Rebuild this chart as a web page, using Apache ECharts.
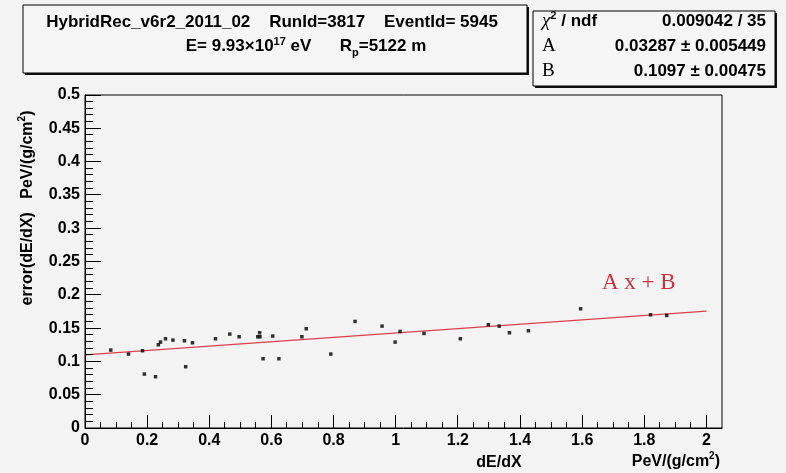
<!DOCTYPE html>
<html>
<head>
<meta charset="utf-8">
<script src="https://cdn.jsdelivr.net/npm/echarts@6/dist/echarts.min.js"></script>
<style>
  html, body { margin: 0; padding: 0; background: #f3f3f3; }
  #chart { width: 786px; height: 473px; }
</style>
</head>
<body>
<div id="chart"></div>
<script>
// dE/dX (PeV/(g/cm2)) and its error for each profile point
const xVals = [0.083, 0.140, 0.185, 0.191, 0.227, 0.236, 0.243, 0.259, 0.283, 0.320,
               0.324, 0.346, 0.420, 0.466, 0.496, 0.556, 0.562, 0.563, 0.573, 0.604,
               0.624, 0.698, 0.712, 0.791, 0.869, 0.956, 0.998, 1.014, 1.091, 1.208,
               1.298, 1.333, 1.366, 1.427, 1.595, 1.820, 1.872];
const yVals = [0.117, 0.111, 0.116, 0.081, 0.077, 0.125, 0.129, 0.134, 0.132, 0.131,
               0.092, 0.128, 0.134, 0.141, 0.137, 0.137, 0.143, 0.137, 0.104, 0.138,
               0.104, 0.137, 0.149, 0.111, 0.160, 0.153, 0.129, 0.145, 0.142, 0.134,
               0.155, 0.153, 0.143, 0.146, 0.179, 0.170, 0.169];

// linear fit parameters  y = A x + B
const fitA = 0.03287;
const fitB = 0.1097;
const fitRange = [0, 2];

// tick labels
const xTickLabels = ['0', '0.2', '0.4', '0.6', '0.8', '1', '1.2', '1.4', '1.6', '1.8', '2'];
const yTickLabels = ['0', '0.05', '0.1', '0.15', '0.2', '0.25', '0.3', '0.35', '0.4', '0.45', '0.5'];

const points = xVals.map((x, i) => [x, yVals[i]]);
const fitLine = fitRange.map(x => [x, fitA * x + fitB]);

const FONT = 'Liberation Sans, Arial, sans-serif';
const SERIF = 'Liberation Serif, Times New Roman, serif';

// ROOT-style inner tick marks, one entry per tick value
const X_MAJOR = 0.2, X_MINOR = 0.05, Y_MAJOR = 0.05, Y_MINOR = 0.01;
function tickValues(lastLabel, minor) {
  const out = [];
  const n = Math.round(parseFloat(lastLabel) / minor);
  for (let i = 0; i <= n; i++) out.push(+(i * minor).toFixed(4));
  return out;
}
function isMultiple(v, step) {
  return Math.abs(v / step - Math.round(v / step)) < 1e-6;
}
const xTickVals = tickValues(xTickLabels[xTickLabels.length - 1], X_MINOR);
const yTickVals = tickValues(yTickLabels[yTickLabels.length - 1], Y_MINOR);

function pickLabel(list, step) {
  return function (v) {
    const k = Math.round(v / step);
    if (!isMultiple(v, step)) return '';
    return list[k] !== undefined ? list[k] : '';
  };
}

const chart = echarts.init(document.getElementById('chart'));

chart.setOption({
  animation: false,
  grid: {
    left: 85, top: 95, right: 64, bottom: 45,
    show: true, borderColor: '#000', borderWidth: 1, backgroundColor: 'transparent'
  },
  xAxis: {
    type: 'value', min: 0, max: 2.05, interval: X_MAJOR,
    axisLine: { show: true, lineStyle: { color: '#000', width: 1 } },
    axisTick: { show: false },
    splitLine: { show: false },
    axisLabel: {
      margin: 5, color: '#000', fontFamily: FONT, fontWeight: 'bold', fontSize: 16,
      formatter: pickLabel(xTickLabels, X_MAJOR)
    }
  },
  yAxis: {
    type: 'value', min: 0, max: 0.5, interval: Y_MAJOR,
    axisLine: { show: true, lineStyle: { color: '#000', width: 1 } },
    axisTick: { show: false },
    splitLine: { show: false },
    axisLabel: {
      margin: 5, color: '#000', fontFamily: FONT, fontWeight: 'bold', fontSize: 16,
      formatter: pickLabel(yTickLabels, Y_MAJOR)
    }
  },
  series: [
    {
      // bottom axis ticks, drawn as 1px filled bars pointing into the frame
      type: 'custom', silent: true, z: 4,
      data: xTickVals.map(v => [v, 0]),
      renderItem: function (params, api) {
        const v = api.value(0);
        const p = api.coord([v, api.value(1)]);
        const len = isMultiple(v, X_MAJOR) ? 13 : 6;
        return {
          type: 'rect',
          shape: { x: Math.round(p[0] - 0.5), y: Math.round(p[1]) - len, width: 1, height: len },
          style: { fill: '#000' }
        };
      }
    },
    {
      // left axis ticks
      type: 'custom', silent: true, z: 4,
      data: yTickVals.map(v => [0, v]),
      renderItem: function (params, api) {
        const v = api.value(1);
        const p = api.coord([api.value(0), v]);
        const len = isMultiple(v, Y_MAJOR) ? 16 : 8;
        return {
          type: 'rect',
          shape: { x: Math.round(p[0]), y: Math.round(p[1] - 0.5), width: len, height: 1 },
          style: { fill: '#000' }
        };
      }
    },
    {
      type: 'line', data: fitLine, showSymbol: false, symbol: 'none',
      lineStyle: { color: '#d8404e', width: 1.2 }, z: 2
    },
    {
      type: 'scatter', data: points, symbol: 'rect', symbolSize: 3.5,
      itemStyle: { color: '#000' }, z: 3
    }
  ],
  graphic: [
    // title pave with shadow
    { type: 'rect', shape: { x: 25, y: 7, width: 504, height: 68 }, style: { fill: '#111' }, silent: true },
    { type: 'rect', shape: { x: 23, y: 5, width: 504, height: 68 }, style: { fill: '#f5f5f5', stroke: '#000', lineWidth: 1 }, silent: true },
    {
      type: 'text', x: 272, y: 22,
      style: {
        text: 'HybridRec_v6r2_2011_02    RunId=3817    EventId= 5945',
        font: 'bold 17px ' + FONT, fill: '#000', align: 'center', verticalAlign: 'middle'
      }
    },
    {
      type: 'text', x: 306, y: 46,
      style: {
        text: '{b|E= 9.93×10}{sup|17}{b| eV      R}{sub|p}{b|=5122 m}',
        align: 'center', verticalAlign: 'middle',
        rich: {
          b: { font: 'bold 17px ' + FONT, fill: '#000', lineHeight: 24 },
          sup: { font: 'bold 11px ' + FONT, fill: '#000', lineHeight: 24, verticalAlign: 'top', padding: [2, 0, 0, 0] },
          sub: { font: 'bold 11px ' + FONT, fill: '#000', lineHeight: 24, verticalAlign: 'bottom' }
        }
      }
    },
    // fit statistics pave with shadow
    { type: 'rect', shape: { x: 535, y: 13, width: 242, height: 75 }, style: { fill: '#111' }, silent: true },
    { type: 'rect', shape: { x: 533, y: 11, width: 242, height: 75 }, style: { fill: '#f5f5f5', stroke: '#000', lineWidth: 1 }, silent: true },
    {
      type: 'text', x: 542, y: 21,
      style: {
        text: '{g|χ}{sup|2}{b| / ndf}',
        align: 'left', verticalAlign: 'middle',
        rich: {
          g: { font: 'italic 19px ' + SERIF, fill: '#000', lineHeight: 22 },
          b: { font: 'bold 17px ' + FONT, fill: '#000', lineHeight: 22 },
          sup: { font: 'bold 11px ' + FONT, fill: '#000', lineHeight: 22, verticalAlign: 'top' }
        }
      }
    },
    { type: 'text', x: 766, y: 21, style: { text: '0.009042 / 35', font: 'bold 17px ' + FONT, fill: '#000', align: 'right', verticalAlign: 'middle' } },
    { type: 'text', x: 542, y: 46, style: { text: 'A', font: '19px ' + SERIF, fill: '#000', align: 'left', verticalAlign: 'middle' } },
    { type: 'text', x: 766, y: 46, style: { text: '0.03287 ± 0.005449', font: 'bold 17px ' + FONT, fill: '#000', align: 'right', verticalAlign: 'middle' } },
    { type: 'text', x: 542, y: 71, style: { text: 'B', font: '19px ' + SERIF, fill: '#000', align: 'left', verticalAlign: 'middle' } },
    { type: 'text', x: 766, y: 71, style: { text: '0.1097 ± 0.00475', font: 'bold 17px ' + FONT, fill: '#000', align: 'right', verticalAlign: 'middle' } },
    // fit function label
    { type: 'text', x: 602, y: 283, style: { text: 'A x + B', font: '23px ' + SERIF, fill: '#c8323f', align: 'left', verticalAlign: 'middle' } },
    // axis titles
    {
      type: 'text', x: 28, y: 208, rotation: Math.PI / 2,
      style: {
        text: '{b|error(dE/dX)   PeV/(g/cm}{sup|2}{b|)}',
        align: 'center', verticalAlign: 'middle',
        rich: {
          b: { font: 'bold 16px ' + FONT, fill: '#000', lineHeight: 22 },
          sup: { font: 'bold 10px ' + FONT, fill: '#000', lineHeight: 22, verticalAlign: 'top' }
        }
      }
    },
    { type: 'text', x: 499, y: 463, style: { text: 'dE/dX', font: 'bold 16px ' + FONT, fill: '#000', align: 'center', verticalAlign: 'middle' } },
    {
      type: 'text', x: 720, y: 462,
      style: {
        text: '{b|PeV/(g/cm}{sup|2}{b|)}',
        align: 'right', verticalAlign: 'middle',
        rich: {
          b: { font: 'bold 16px ' + FONT, fill: '#000', lineHeight: 22 },
          sup: { font: 'bold 10px ' + FONT, fill: '#000', lineHeight: 22, verticalAlign: 'top' }
        }
      }
    }
  ]
});
</script>
</body>
</html>
